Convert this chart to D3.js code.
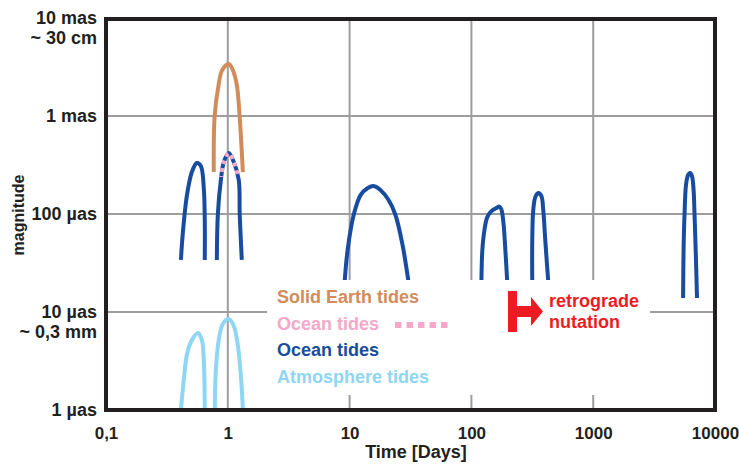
<!DOCTYPE html>
<html>
<head>
<meta charset="utf-8">
<script src="https://cdn.jsdelivr.net/npm/d3@7"></script>
<style>
  body { margin: 0; background: #fff; }
  svg text { font-family: "Liberation Sans", Arial, sans-serif; font-weight: bold; }
</style>
</head>
<body>
<div id="chart"></div>
<script>
// ticks
var xTicks = [0.1, 1, 10, 100, 1000, 10000];
var xTickLabels = ["0,1", "1", "10", "100", "1000", "10000"];
var xGrid = [1, 10, 100, 1000];
var yTicks = [1, 10, 100, 1000, 10000];
var yTickLabels = [["1 µas"], ["10 µas", "~ 0,3 mm"], ["100 µas"], ["1 mas"], ["10 mas", "~ 30 cm"]];
var yGrid = [10, 100, 1000];

// curves: [period in days, magnitude in µas]
var solidEarth = [[0.767, 268], [0.78, 1000], [0.84, 2070], [0.9, 2946], [1.02, 3395], [1.099, 2946], [1.186, 2070], [1.25, 1000], [1.33, 268]];
var oceanSemidiurnal = [[0.412, 34], [0.428, 65.5], [0.461, 153], [0.507, 268], [0.557, 331], [0.601, 309], [0.635, 184], [0.647, 86.9], [0.647, 34]];
var oceanDiurnal = [[0.813, 34], [0.828, 97.7], [0.877, 222], [0.927, 339], [1.019, 419], [1.12, 339], [1.23, 222], [1.253, 97.7], [1.303, 34]];
var oceanFortnightly = [[9.1, 20], [9.63, 42.9], [10.8, 97.7], [12.3, 156], [14.1, 184], [15.7, 193], [17.9, 176], [20.9, 139], [23.8, 97.7], [27.2, 48.3], [30.5, 20]];
var oceanSemiannual = [[120.8, 20], [123, 42.9], [128, 68.7], [135, 93], [146, 107], [160, 115], [170, 119], [176, 112], [183, 82.9], [190, 42.9], [197, 20]];
var oceanAnnual = [[316, 20], [316, 54.3], [322, 110], [335, 149], [354, 164], [375, 153], [389, 110], [404, 54.3], [428, 20]];
var oceanNodal = [[5470, 13.9], [5520, 42.9], [5623, 100], [5780, 198], [6010, 250], [6240, 262], [6470, 244], [6670, 176], [6790, 100], [6980, 34], [7115, 13.9]];
var atmosSemidiurnal = [[0.412, 1], [0.435, 2.02], [0.461, 3.64], [0.498, 4.94], [0.568, 6.1], [0.612, 5.18], [0.635, 3.24], [0.647, 1]];
var atmosDiurnal = [[0.782, 1], [0.798, 2.56], [0.843, 5.18], [0.91, 7.55], [1.019, 8.48], [1.12, 7.2], [1.208, 4.61], [1.279, 2.28], [1.33, 1]];

var legendLabels = ["Solid Earth tides", "Ocean tides", "Ocean tides", "Atmosphere tides"];
var nutationLabel = ["retrograde", "nutation"];

var cOrange = "#D28C5B", cBlue = "#174C9E", cLight = "#8ED6F4", cPink = "#F5A8CA", cRed = "#ED1C24";
var legendColors = [cOrange, cPink, cBlue, cLight];

var W = 739, H = 464;
var svg = d3.select("#chart").append("svg").attr("width", W).attr("height", H);

var x = d3.scaleLog().domain([0.1, 10000]).range([106, 715]);
var y = d3.scaleLog().domain([1, 10000]).range([410, 18]);

// grid
svg.append("g").selectAll("line").data(xGrid).enter().append("line")
  .attr("x1", d => x(d)).attr("x2", d => x(d))
  .attr("y1", y(10000)).attr("y2", y(1))
  .attr("stroke", "#9D9D9D").attr("stroke-width", 2);
svg.append("g").selectAll("line").data(yGrid).enter().append("line")
  .attr("x1", x(0.1)).attr("x2", x(10000))
  .attr("y1", d => y(d)).attr("y2", d => y(d))
  .attr("stroke", "#9D9D9D").attr("stroke-width", 2);

var line = d3.line()
  .x(d => x(d[0]))
  .y(d => y(d[1]))
  .curve(d3.curveCatmullRom.alpha(0.5));

function drawCurve(pts, color)
{
  return svg.append("path")
    .attr("d", line(pts))
    .attr("fill", "none")
    .attr("stroke", color)
    .attr("stroke-width", 4)
    .attr("stroke-linejoin", "round");
}

drawCurve(solidEarth, cOrange);
[oceanSemidiurnal, oceanDiurnal, oceanFortnightly, oceanSemiannual, oceanAnnual, oceanNodal]
  .forEach(c => drawCurve(c, cBlue));
[atmosSemidiurnal, atmosDiurnal].forEach(c => drawCurve(c, cLight));

// pink dashes on top part of diurnal ocean arch
svg.append("clipPath").attr("id", "topclip")
  .append("rect").attr("x", x(0.7)).attr("y", 0).attr("width", x(1.5) - x(0.7)).attr("height", 177);
drawCurve(oceanDiurnal, cPink)
  .attr("stroke-dasharray", "4,4")
  .attr("clip-path", "url(#topclip)");

// legend box
svg.append("rect").attr("x", 267).attr("y", 280).attr("width", 383).attr("height", 115).attr("fill", "#fff");

svg.append("g").selectAll("text").data(legendLabels).enter().append("text")
  .attr("x", 277).attr("y", (d, i) => 303 + i * 26.7)
  .attr("fill", (d, i) => legendColors[i])
  .attr("font-size", 18)
  .text(d => d);

svg.append("line")
  .attr("x1", 395).attr("x2", 450).attr("y1", 325).attr("y2", 325)
  .attr("stroke", cPink).attr("stroke-width", 6).attr("stroke-dasharray", "6.5,5");

// retrograde nutation symbol
svg.append("path")
  .attr("d", "M508,291 H517 V306 H531 V297 L543,311.5 L531,326 V317 H517 V332 H508 Z")
  .attr("fill", cRed);
svg.append("text").attr("x", 549).attr("y", 307).attr("fill", cRed).attr("font-size", 18)
  .selectAll("tspan").data(nutationLabel).enter().append("tspan")
  .attr("x", 549).attr("dy", (d, i) => i ? 21 : 0).text(d => d);

// axes
var xAxis = svg.append("g").attr("transform", "translate(0,410)")
  .call(d3.axisBottom(x).tickValues(xTicks).tickFormat((d, i) => xTickLabels[i]).tickSize(0).tickPadding(17));
xAxis.select(".domain").remove();
xAxis.selectAll("text").attr("font-size", 17).attr("fill", "#231F20");

var yAxis = svg.append("g").attr("transform", "translate(106,0)")
  .call(d3.axisLeft(y).tickValues(yTicks).tickSize(0).tickPadding(9));
yAxis.select(".domain").remove();
yAxis.selectAll("text").each(function(d, i){
  var t = d3.select(this).text(null).attr("font-size", 18).attr("fill", "#231F20");
  yTickLabels[i].forEach(function(s, k){
    t.append("tspan").attr("x", -9).attr("dy", k ? 20 : "0.32em").text(s);
  });
});

// frame
svg.append("rect").attr("x", 106).attr("y", 19).attr("width", 609).attr("height", 391)
  .attr("fill", "none").attr("stroke", "#231F20").attr("stroke-width", 4);

svg.append("text").attr("x", 416).attr("y", 458).attr("text-anchor", "middle")
  .attr("font-size", 18).attr("fill", "#231F20").text("Time [Days]");
svg.append("text").attr("transform", "translate(24,215) rotate(-90)").attr("text-anchor", "middle")
  .attr("font-size", 16).attr("fill", "#231F20").text("magnitude");
</script>
</body>
</html>
